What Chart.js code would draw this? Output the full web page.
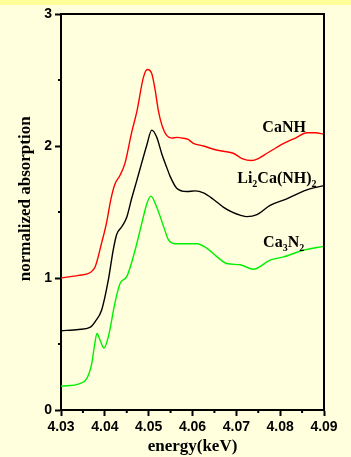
<!DOCTYPE html>
<html>
<head>
<meta charset="utf-8">
<script src="https://cdn.jsdelivr.net/npm/chart.js@4/dist/chart.umd.min.js"></script>
<style>
  html, body { margin: 0; padding: 0; background: #ffffdd; }
  #wrap { width: 351px; height: 457px; }
</style>
</head>
<body>
<div id="wrap"><canvas id="xanes" width="351" height="457"></canvas></div>
<script>
// 数据
const energyCaNH = [4.030, 4.034, 4.0366, 4.0378, 4.0393, 4.0404, 4.0414, 4.0423, 4.0435, 4.0446,
  4.0461, 4.0473, 4.0488, 4.0497, 4.0507, 4.0515, 4.0522, 4.0530, 4.0541, 4.0553,
  4.0565, 4.0576, 4.0590, 4.0602, 4.0625, 4.0648, 4.0670, 4.0693, 4.0713, 4.0735,
  4.0750, 4.0770, 4.0790, 4.0808, 4.0835, 4.0861, 4.0880, 4.0900];
const absCaNH = [1.00, 1.02, 1.04, 1.085, 1.27, 1.42, 1.60, 1.71, 1.78, 1.87,
  2.10, 2.26, 2.52, 2.58, 2.55, 2.42, 2.27, 2.16, 2.08, 2.06,
  2.065, 2.06, 2.05, 2.02, 2.00, 1.975, 1.96, 1.945, 1.905, 1.89,
  1.905, 1.945, 1.985, 2.02, 2.06, 2.10, 2.10, 2.09];

const energyLiCa = [4.030, 4.034, 4.0366, 4.0378, 4.0393, 4.0408, 4.0419, 4.0427, 4.0439, 4.0450,
  4.0461, 4.0473, 4.0484, 4.0496, 4.0507, 4.0518, 4.0530, 4.0541, 4.0549, 4.0564,
  4.0587, 4.0606, 4.0625, 4.0648, 4.0671, 4.0693, 4.0710, 4.0724, 4.0747, 4.0777,
  4.0815, 4.0861, 4.0900];
const absLiCa = [0.60, 0.61, 0.626, 0.67, 0.76, 0.985, 1.21, 1.33, 1.39, 1.46,
  1.60, 1.74, 1.87, 2.01, 2.12, 2.07, 1.94, 1.84, 1.77, 1.68,
  1.655, 1.66, 1.645, 1.595, 1.535, 1.495, 1.475, 1.465, 1.48, 1.55,
  1.60, 1.667, 1.70];

const energyCa3N2 = [4.030, 4.0343, 4.0359, 4.0370, 4.0377, 4.0382, 4.0389, 4.0398, 4.0408, 4.0423,
  4.0435, 4.0450, 4.0469, 4.0484, 4.0496, 4.0505, 4.0518, 4.0534, 4.0545, 4.0560,
  4.0595, 4.0610, 4.0633, 4.0656, 4.0678, 4.0709, 4.0739, 4.0777, 4.0808, 4.0853,
  4.0900];
const absCa3N2 = [0.18, 0.20, 0.24, 0.35, 0.50, 0.58, 0.53, 0.47, 0.555, 0.81,
  0.96, 1.01, 1.21, 1.41, 1.565, 1.62, 1.54, 1.39, 1.29, 1.26,
  1.26, 1.26, 1.225, 1.16, 1.11, 1.10, 1.066, 1.136, 1.16, 1.21,
  1.24];

// 刻度标签
const xMajorTicks = [4.03, 4.04, 4.05, 4.06, 4.07, 4.08, 4.09];
const yMajorTicks = [0, 1, 2, 3];

function toPoints(xs, ys) {
  return xs.map((x, i) => ({ x: x, y: ys[i] }));
}

function isMajor(list, v) {
  return list.some(t => Math.abs(t - v) < 1e-6);
}

// 背景
const backgroundPlugin = {
  id: 'bg',
  beforeDraw(chart) {
    const ctx = chart.ctx;
    ctx.save();
    ctx.fillStyle = '#ffffdd';
    ctx.fillRect(0, 0, chart.width, chart.height);
    ctx.fillStyle = '#ffff99';
    ctx.fillRect(0, 0, chart.width, 5);
    ctx.restore();
  }
};

// 边框、次刻度、标注
const decorPlugin = {
  id: 'decor',
  afterDraw(chart) {
    const ctx = chart.ctx;
    const area = chart.chartArea;
    const xs = chart.scales.x;
    const ys = chart.scales.y;
    ctx.save();

    // 上边和右边的框线
    ctx.strokeStyle = '#000';
    ctx.lineWidth = 2;
    ctx.beginPath();
    ctx.moveTo(area.left, area.top);
    ctx.lineTo(area.right, area.top);
    ctx.lineTo(area.right, area.bottom);
    ctx.stroke();

    // 次刻度
    ctx.beginPath();
    xs.ticks.forEach(t => {
      if (!isMajor(xMajorTicks, t.value)) {
        const px = xs.getPixelForValue(t.value);
        ctx.moveTo(px, area.bottom);
        ctx.lineTo(px, area.bottom + 3);
      }
    });
    ys.ticks.forEach(t => {
      if (!isMajor(yMajorTicks, t.value)) {
        const py = ys.getPixelForValue(t.value);
        ctx.moveTo(area.left, py);
        ctx.lineTo(area.left - 3, py);
      }
    });
    ctx.stroke();

    // 曲线标注
    ctx.fillStyle = '#000';
    ctx.textBaseline = 'alphabetic';
    const big = 'bold 16px "Liberation Serif", "Times New Roman", serif';
    const small = 'bold 10px "Liberation Serif", "Times New Roman", serif';
    function label(parts, ex, ev, center) {
      let x = xs.getPixelForValue(ex);
      const y = ys.getPixelForValue(ev);
      let total = 0;
      parts.forEach(p => { ctx.font = p[1] ? small : big; total += ctx.measureText(p[0]).width; });
      if (center) x -= total / 2;
      parts.forEach(p => {
        ctx.font = p[1] ? small : big;
        ctx.fillText(p[0], x, p[1] ? y + 4 : y);
        x += ctx.measureText(p[0]).width;
      });
    }
    label([['CaNH', false]], 4.0809, 2.108, true);
    label([['Li', false], ['2', true], ['Ca(NH)', false], ['2', true]], 4.0702, 1.717, false);
    label([['Ca', false], ['3', true], ['N', false], ['2', true]], 4.0761, 1.237, false);

    // 纵轴标题
    ctx.font = 'bold 17px "Liberation Serif", "Times New Roman", serif';
    ctx.textAlign = 'center';
    ctx.textBaseline = 'middle';
    ctx.translate(26, ys.getPixelForValue(1.6));
    ctx.rotate(-Math.PI / 2);
    ctx.fillText('normalized absorption', 0, 0);

    ctx.restore();
  }
};

const tickFont = { family: '"Liberation Sans", Arial, sans-serif', size: 14, weight: 'bold' };

const xanesChart = new Chart(document.getElementById('xanes').getContext('2d'), {
  type: 'line',
  data: {
    datasets: [
      {
        label: 'CaNH',
        data: toPoints(energyCaNH, absCaNH),
        borderColor: '#ff0000',
        borderWidth: 1.4
      },
      {
        label: 'Li2Ca(NH)2',
        data: toPoints(energyLiCa, absLiCa),
        borderColor: '#000000',
        borderWidth: 1.4
      },
      {
        label: 'Ca3N2',
        data: toPoints(energyCa3N2, absCa3N2),
        borderColor: '#00f000',
        borderWidth: 1.4
      }
    ]
  },
  options: {
    responsive: false,
    animation: false,
    devicePixelRatio: 1,
    layout: { padding: { left: 0, right: 27, top: 14, bottom: 0 } },
    elements: {
      point: { radius: 0 },
      line: { cubicInterpolationMode: 'monotone', fill: false }
    },
    plugins: {
      legend: { display: false },
      tooltip: { enabled: false }
    },
    scales: {
      x: {
        type: 'linear',
        min: 4.03,
        max: 4.09,
        afterFit(scale) { scale.height = 47; },
        border: { color: '#000', width: 2 },
        grid: {
          drawOnChartArea: false,
          drawTicks: true,
          tickLength: 6,
          tickWidth: 2,
          tickColor: c => (c.tick && isMajor(xMajorTicks, c.tick.value)) ? '#000' : 'rgba(0,0,0,0)'
        },
        ticks: {
          stepSize: 0.005,
          autoSkip: false,
          maxRotation: 0,
          padding: 3,
          color: '#000',
          font: tickFont,
          callback: v => isMajor(xMajorTicks, v) ? v.toFixed(2) : ''
        },
        title: {
          display: true,
          text: 'energy(keV)',
          color: '#000',
          padding: { top: 0, bottom: 0 },
          font: { family: '"Liberation Serif", "Times New Roman", serif', size: 17, weight: 'bold' }
        }
      },
      y: {
        min: 0,
        max: 3,
        afterFit(scale) { scale.width = 61; },
        border: { color: '#000', width: 2 },
        grid: {
          drawOnChartArea: false,
          drawTicks: true,
          tickLength: 6,
          tickWidth: 2,
          tickColor: c => (c.tick && isMajor(yMajorTicks, c.tick.value)) ? '#000' : 'rgba(0,0,0,0)'
        },
        ticks: {
          stepSize: 0.5,
          autoSkip: false,
          padding: 3,
          color: '#000',
          font: tickFont,
          callback: v => isMajor(yMajorTicks, v) ? String(Math.round(v)) : ''
        }
      }
    }
  },
  plugins: [backgroundPlugin, decorPlugin]
});
</script>
</body>
</html>
